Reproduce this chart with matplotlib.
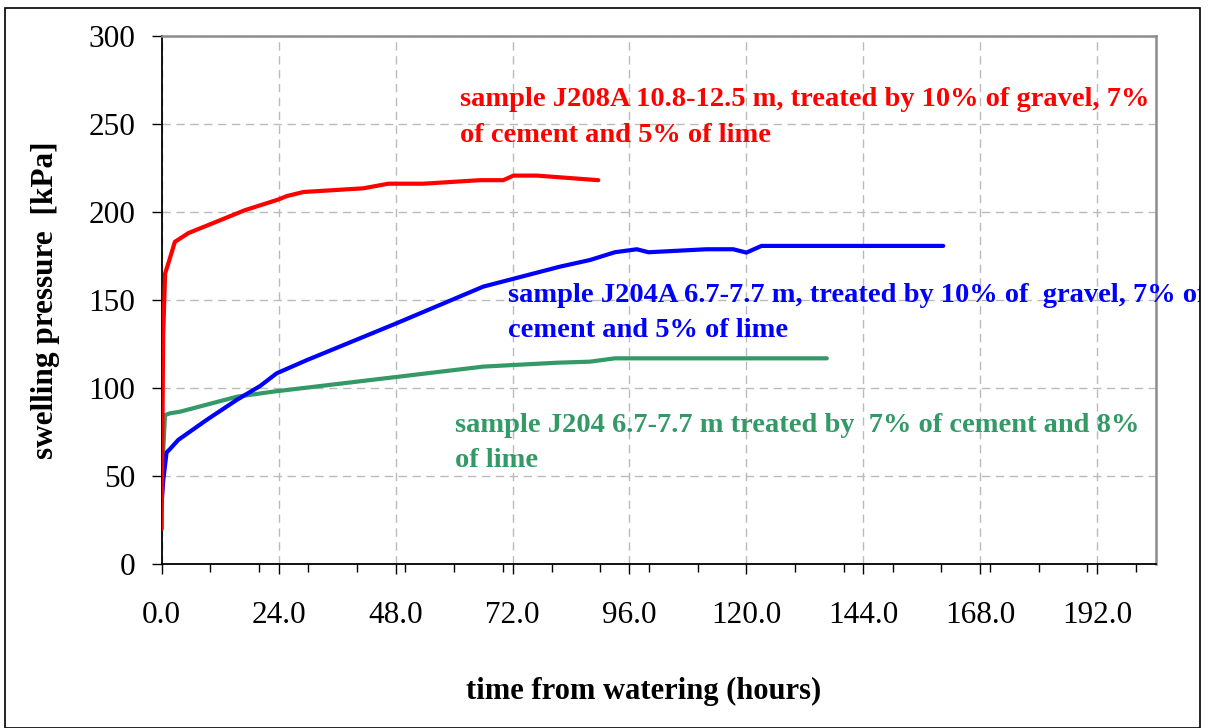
import matplotlib
matplotlib.use("Agg")
import matplotlib.pyplot as plt
from matplotlib.ticker import MultipleLocator, FormatStrFormatter
from matplotlib.transforms import Bbox
from matplotlib.patches import Rectangle

# ---- data (hours, kPa) ----
red_t = [0, 0.1, 0.3, 0.7, 1.5, 2.7, 5.5, 11.3, 17.1, 23.9, 25.7, 29.1, 41.4, 46.5, 53.7, 65.3, 70.1, 72.2, 77.0, 89.6]
red_p = [20, 60, 130, 165, 172, 183, 188, 194.5, 201, 207, 209, 211.3, 213.4, 216, 216, 218, 218, 220.6, 220.6, 218]

blue_t = [0, 0.33, 1.0, 1.56, 3.4, 9.2, 15.4, 20.2, 23.6, 29.8, 48.2, 66.0, 81.7, 87.9, 93.0, 97.5, 99.9, 111.8, 117.3, 120.0, 123.1, 160.4]
blue_p = [35, 48, 63.5, 65, 70.6, 81.9, 93.3, 101.2, 108.4, 115.9, 136.8, 157.6, 168.9, 172.7, 177.1, 178.8, 177.1, 178.8, 178.8, 176.9, 180.7, 180.7]

green_t = [0, 0.68, 1.7, 3.76, 15.4, 22.9, 66.0, 81.1, 87.9, 93.0, 136.5]
green_p = [48, 84.7, 85.7, 86.6, 95.1, 98, 112.2, 114.4, 115, 116.9, 116.9]

red_label = ["sample J208A 10.8-12.5 m, treated by 10% of gravel, 7%", "of cement and 5% of lime"]
blue_label = ["sample J204A 6.7-7.7 m, treated by 10% of  gravel, 7% of", "cement and 5% of lime"]
green_label = ["sample J204 6.7-7.7 m treated by  7% of cement and 8%", "of lime"]

RED = "#FF0000"
BLUE = "#0000FF"
GREEN = "#339966"

W, H = 1216, 728
fig = plt.figure(figsize=(W / 100, H / 100), dpi=100)
fig.patch.set_facecolor("white")

# outer chart frame
fig.patches.append(Rectangle((5 / W, 0.0), (1200 - 5) / W, 1 - 8 / H - 0.0005,
                             transform=fig.transFigure, fill=False,
                             edgecolor="black", linewidth=1.2))

ax = fig.add_axes([161.7 / W, 1 - 564.3 / H, (1155.7 - 161.7) / W, (564.3 - 35.7) / H])

ax.plot(green_t, green_p, color=GREEN, lw=3, solid_joinstyle="round", solid_capstyle="round", zorder=3)
ax.plot(blue_t, blue_p, color=BLUE, lw=3, solid_joinstyle="round", solid_capstyle="round", zorder=4)
ax.plot(red_t, red_p, color=RED, lw=3, solid_joinstyle="round", solid_capstyle="round", zorder=5)

ax.set_xlim(0, 204)
ax.set_ylim(0, 300)
ax.xaxis.set_major_locator(MultipleLocator(24))
ax.xaxis.set_minor_locator(MultipleLocator(10))
ax.xaxis.set_major_formatter(FormatStrFormatter("%.1f"))
ax.yaxis.set_major_locator(MultipleLocator(50))

ax.grid(True, which="major", axis="both", color="#BBBBBB", linestyle=(0, (6, 4)), linewidth=1.0)
ax.set_axisbelow(True)

serif = ["Liberation Serif", "DejaVu Serif"]
ax.tick_params(axis="both", which="major", direction="out", length=7.2, width=1.0, color="black")
ax.tick_params(axis="x", which="minor", direction="out", length=5.8, width=1.0, color="black")
ax.tick_params(axis="x", which="major", pad=19)
ax.tick_params(axis="y", which="major", pad=12)
for lab in ax.get_xticklabels() + ax.get_yticklabels():
    lab.set_fontfamily(serif)
    lab.set_fontsize(22.5)

for s in ["left", "bottom"]:
    ax.spines[s].set_color("black")
    ax.spines[s].set_linewidth(1.3)
for s in ["top", "right"]:
    ax.spines[s].set_color("#8C8C8C")
    ax.spines[s].set_linewidth(1.8)

ax.set_xlabel("time from watering (hours)", fontfamily=serif, fontweight="bold", fontsize=22, labelpad=34)
ax.xaxis.set_label_coords(0.485, -0.24)
ax.xaxis.label.set_va("center")
ax.set_ylabel("swelling pressure  [kPa]", fontfamily=serif, fontweight="bold", fontsize=22.5, labelpad=20)

clip = Bbox.from_extents(0, 0, 1200, H)

def label(lines, x, ys, color):
    for line, y in zip(lines, ys):
        t = ax.text(x, y, line, color=color, fontfamily=serif, fontweight="bold",
                    fontsize=20.5, ha="left", va="baseline", clip_on=True, zorder=6)
        t.set_clip_box(clip)

label(red_label, 61.2, [260.2, 239.9], RED)
label(blue_label, 71.1, [149.1, 129.2], BLUE)
label(green_label, 60.2, [75.3, 55.4], GREEN)

fig.savefig("out.png", dpi=100)
